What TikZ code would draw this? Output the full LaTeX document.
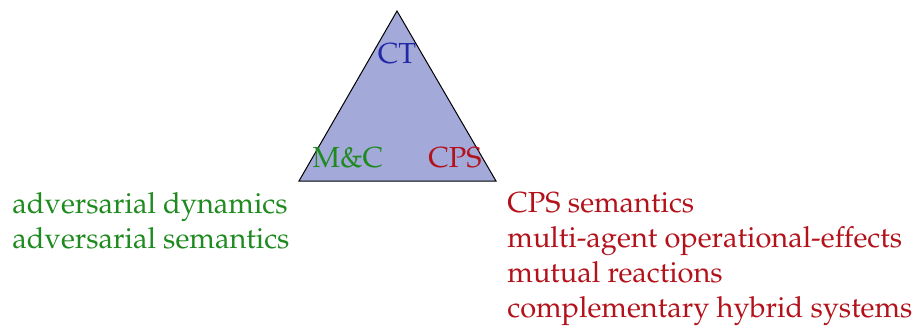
\documentclass[tikz,border=0pt]{standalone}
\usepackage[T1]{fontenc}
\usepackage{mathpazo}
\usetikzlibrary{calc}
\definecolor{tfill}{HTML}{A3A9D9}
\definecolor{tblue}{HTML}{2328A6}
\definecolor{tgreen}{HTML}{1F8A1F}
\definecolor{tred}{HTML}{B3121B}
\newcommand{\tfont}{\fontsize{14.5}{17.5}\selectfont}
\tikzset{lbl/.style={inner sep=0,anchor=base,font=\tfont},
  line/.style={inner sep=0,anchor=base west,font=\tfont}}

\begin{document}
\begin{tikzpicture}[x=0.5pt,y=0.5pt]
\useasboundingbox (0,0) rectangle (916,329);
\coordinate (top) at (397,318); \coordinate (ml) at (299,148); \coordinate (mr) at (496,148);
\draw[black,line width=0.5pt,fill=tfill] (top) -- (ml) -- (mr) -- cycle;
\node[lbl,text=tblue] (ct) at (397,266) {CT};
\node[lbl,text=tgreen] (mc) at (348,162) {M\&C};
\node[lbl,text=tred] (cps) at (455,162) {CPS};
% left column
\foreach \t [count=\i] in {adversarial dynamics,adversarial semantics}
  \node[line,text=tgreen] (l\i) at (12,{116-35*(\i-1)}) {\t};
% right column
\foreach \t [count=\i] in {CPS semantics,multi-agent operational-effects,mutual reactions,complementary hybrid systems}
  \node[line,text=tred] (r\i) at (507,{117-35.3*(\i-1)}) {\t};
\end{tikzpicture}
\end{document}
